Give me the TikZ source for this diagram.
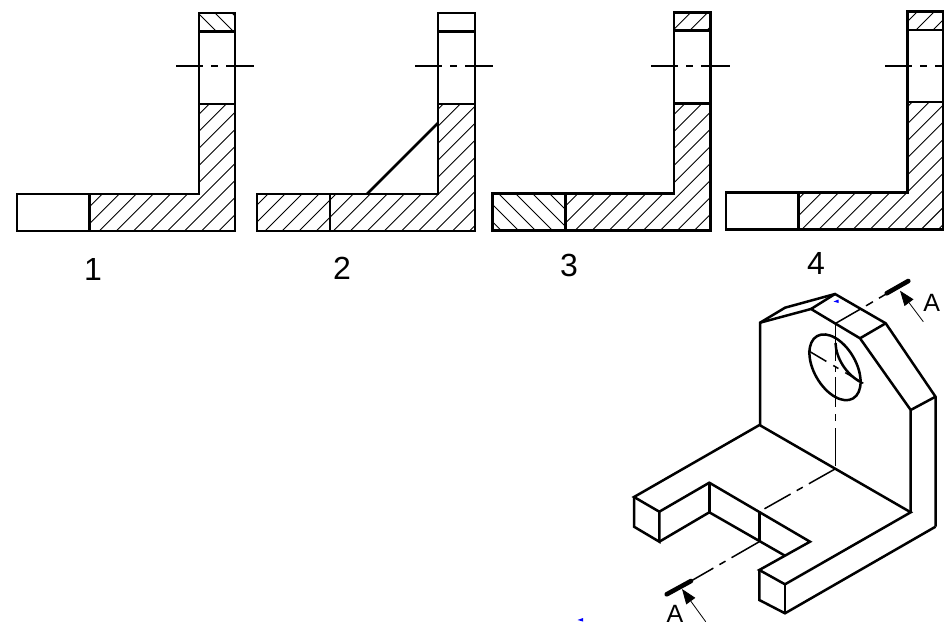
\documentclass[tikz,border=0pt]{standalone}
\usepackage{fontspec}
\setmainfont{Liberation Sans}
\usetikzlibrary{arrows.meta}
\tikzset{
  x=1pt,y=-1pt,
  outline/.style={line width=2.5pt,line join=miter,black},
  hatchline/.style={line width=0.9pt,black},
  center/.style={line width=1.5pt,black,dash pattern=on 27pt off 8pt on 7pt off 8pt on 40pt},
  centerthin/.style={line width=1.5pt,black},
  bar/.style={line width=4.6pt,line cap=round,black},
  tiphead/.style={-{Triangle[length=15pt,width=11pt]},line width=0.8pt,black},
  numlabel/.style={font=\fontsize{32}{33}\selectfont,inner sep=0pt},
  seclabel/.style={font=\fontsize{25}{26}\selectfont,inner sep=0pt},
}
% / hatching: lines x+y = c + 17k
\newcommand{\hatchF}[2]{\begin{scope}\clip #1;
  \foreach \k in {-45,...,45}{\pgfmathsetmacro\cc{#2+17.05*\k}
    \draw[hatchline] ({\cc},0) -- ({\cc-300},300);}\end{scope}}
% \ hatching: lines x-y = c + 17k
\newcommand{\hatchB}[2]{\begin{scope}\clip #1;
  \foreach \k in {-45,...,45}{\pgfmathsetmacro\cc{#2+17.05*\k}
    \draw[hatchline] ({\cc},0) -- ({\cc+300},300);}\end{scope}}
\begin{document}
\begin{tikzpicture}
\useasboundingbox (0,0) rectangle (944,628);
% --- Section 1
\hatchB{(199,13) rectangle (235,31.7)}{202}
\hatchF{(89.7,194) -- (199,194) -- (199,104) -- (235,104) -- (235,231) -- (89.7,231) -- cycle}{330.3}
\draw[outline] (17,194) -- (199,194) -- (199,13) -- (235,13) -- (235,231) -- (17,231) -- cycle;
\draw[outline] (89.7,194) -- (89.7,231);
\draw[outline] (199,31.7) -- (235,31.7);
\draw[outline] (199,104) -- (235,104);
\draw[center] (176,66) -- (254,66);
\node[numlabel] (n1) at (93,269) {1};
% --- Section 2
\hatchF{(257,194) -- (438,194) -- (438,104) -- (475,104) -- (475,231) -- (257,231) -- cycle}{496}
\draw[outline] (257,194) -- (438,194) -- (438,13) -- (475,13) -- (475,231) -- (257,231) -- cycle;
\draw[outline] (330,194) -- (330,231);
\draw[outline] (438,31.7) -- (475,31.7);
\draw[outline] (438,104) -- (475,104);
\draw[outline] (367,194) -- (438,123);
\draw[center] (415,66) -- (493,66);
\node[numlabel] (n2) at (342,268) {2};
% --- Section 3
\hatchF{(674,12.5) rectangle (710.7,30.7)}{805.5}
\hatchB{(492.7,193.5) rectangle (565.7,230.5)}{322}
\hatchF{(565.7,193.5) -- (674,193.5) -- (674,103.5) -- (710.7,103.5) -- (710.7,230.5) -- (565.7,230.5) -- cycle}{805.5}
\draw[outline] (492.7,193.5) -- (674,193.5) -- (674,12.5) -- (710.7,12.5) -- (710.7,230.5) -- (492.7,230.5) -- cycle;
\draw[outline] (565.7,193.5) -- (565.7,230.5);
\draw[outline] (674,30.7) -- (710.7,30.7);
\draw[outline] (674,103.5) -- (710.7,103.5);
\draw[center] (651,66) -- (730,66);
\node[numlabel] (n3) at (569,265) {3};
% --- Section 4
\hatchF{(907.7,11.3) rectangle (943.5,30)}{1048.3}
\hatchF{(798.7,192.3) -- (907.7,192.3) -- (907.7,102) -- (943.5,102) -- (943.5,229.3) -- (798.7,229.3) -- cycle}{1048.3}
\draw[outline] (726,192.3) -- (907.7,192.3) -- (907.7,11.3) -- (943.5,11.3) -- (943.5,229.3) -- (726,229.3) -- cycle;
\draw[outline] (798.7,192.3) -- (798.7,229.3);
\draw[outline] (907.7,30) -- (943.5,30);
\draw[outline] (907.7,102) -- (943.5,102);
\draw[center] (885,66) -- (944,66);
\node[numlabel] (n4) at (816,263) {4};
% --- Isometric part: upright plate
\draw[outline] (760,425) -- (760,322.7) -- (785,307.7) -- (835,294) -- (885.7,323.3) -- (935.5,396.7) -- (935.5,526.7);
\draw[outline] (760,322.7) -- (811,309) -- (860,338.3) -- (910.7,410) -- (910.7,512.3);
\draw[outline] (811,309) -- (835,294);
\draw[outline] (860,338.3) -- (885.7,323.3);
\draw[outline] (910.7,410) -- (935.5,396.7);
% hole
\draw[outline] (835,367.3) circle [x radius=36, y radius=21, rotate=-60];
\draw[outline] (835.5,343) .. controls (836,358) and (846,374) .. (860,381.7);
% base
\draw[outline] (759.5,425) -- (634,497) -- (659.3,511.7) -- (709.3,482.7) -- (810,541.7) -- (759.3,570) -- (785,584.3) -- (910.7,512.3) -- cycle;
\draw[outline] (634,497) -- (634,526.7) -- (659.3,541.7) -- (659.3,511.7);
\draw[outline] (659.3,541.7) -- (709.3,512.3) -- (785,555.7);
\draw[outline] (709.3,482.7) -- (709.3,512.3);
\draw[outline] (759.3,511.7) -- (759.3,541.7);
\draw[outline] (759.3,570) -- (759.3,600) -- (785,613.3) -- (935.5,526.7);
\draw[outline] (785,584.3) -- (785,613.3);
% centre lines
\draw[centerthin,dash pattern=on 28pt off 7pt on 8pt off 7pt on 200pt] (835.7,323.3) -- (864,307) -- (887,293.5);
\draw[centerthin,dash pattern=on 38pt off 6pt on 5pt off 5pt on 30pt off 7pt on 7pt off 7pt] (835.5,323.3) -- (835.5,469);
\draw[centerthin,dash pattern=on 21pt off 8pt on 6pt off 8pt] (808.3,350.7) -- (863.3,383.3);
\draw[centerthin,dash pattern=on 30pt off 7pt on 7pt off 7pt] (835,469) -- (759.3,511.7);
\draw[centerthin,dash pattern=on 32pt off 7pt on 7pt off 7pt on 40pt] (759.3,541.7) -- (691,581);
% cutting plane marks
\draw[bar] (666.7,594.3) -- (691,581);
\draw[bar] (886.7,293.3) -- (908.3,281);
\coordinate (upperTail) at (923.3,321.7);
\coordinate (upperTip) at (900,290.7);
\coordinate (lowerTail) at (705.7,621.7);
\coordinate (lowerTip) at (682,589);
\draw[tiphead] (upperTail) -- (upperTip);
\draw[tiphead] (lowerTail) -- (lowerTip);
\node[seclabel] (a1) at (931.7,303) {A};
\node[seclabel] (a2) at (675,613.5) {A};
% small blue marks
\fill[blue] (833.5,301.5) -- (838.5,299.5) -- (838.5,303) -- cycle;
\fill[blue] (577.5,620) -- (583,618) -- (583,621.5) -- cycle;
\end{tikzpicture}
\end{document}
